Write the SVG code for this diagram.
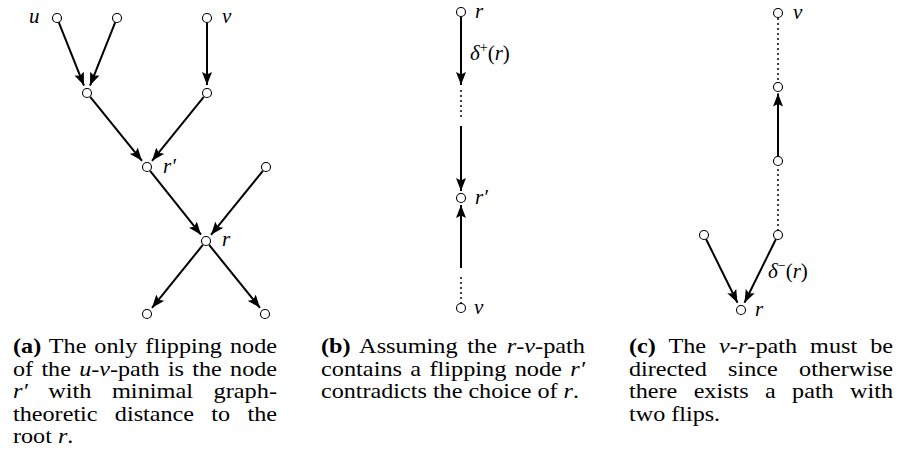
<svg xmlns="http://www.w3.org/2000/svg" width="903" height="459" viewBox="0 0 903 459">
<style>
.n{fill:#fff;stroke:#000;stroke-width:1.1}
.e{stroke:#000;stroke-width:2;fill:none}
.a{marker-end:url(#ah)}
.d{stroke:#000;stroke-width:2;fill:none;stroke-dasharray:0 5;stroke-linecap:round}
.m{font-family:"Liberation Serif",serif;font-style:italic;font-size:21px}
.up{font-style:normal}
.c{font-family:"Liberation Serif",serif;font-size:21px}
.b{font-weight:bold}
.i{font-style:italic}
</style>
<defs>
<marker id="ah" markerUnits="userSpaceOnUse" markerWidth="15" markerHeight="11" refX="13" refY="5.5" orient="auto">
<path d="M0,0.5 L13,5.5 L0,10.5 L2.5,5.5 Z" fill="#000"/>
</marker>
</defs>
<g id="connectors">
<line class="e a" x1="58.7" y1="22.2" x2="84" y2="85.6"/>
<line class="e a" x1="115.3" y1="22.2" x2="90" y2="85.6"/>
<line class="e a" x1="207" y1="23" x2="207" y2="85"/>
<line class="e a" x1="90.2" y1="96.9" x2="142" y2="160.8"/>
<line class="e a" x1="203.8" y1="96.9" x2="152" y2="160.8"/>
<line class="e a" x1="150.1" y1="170.9" x2="201" y2="234.7"/>
<line class="e a" x1="262.9" y1="170.9" x2="211" y2="234.8"/>
<line class="e a" x1="202.9" y1="244.9" x2="152" y2="307.8"/>
<line class="e a" x1="209.1" y1="244.9" x2="260" y2="307.8"/>
<line class="e a" x1="461" y1="16.5" x2="461" y2="85"/>
<line class="d" x1="461" y1="91" x2="461" y2="121"/>
<line class="e a" x1="461" y1="126" x2="461" y2="191"/>
<line class="d" x1="461" y1="303" x2="461" y2="273"/>
<line class="e a" x1="461" y1="268" x2="461" y2="205"/>
<line class="d" x1="778" y1="19" x2="778" y2="82"/>
<line class="e a" x1="778" y1="156.5" x2="778" y2="93.5"/>
<line class="d" x1="778" y1="230" x2="778" y2="166"/>
<line class="e a" x1="706" y1="239" x2="737.5" y2="302.8"/>
<line class="e a" x1="776" y1="239" x2="744.5" y2="302.8"/>
</g>
<g id="a-u"><circle class="n" cx="57" cy="18" r="4.5"/><text class="m" x="29" y="23">u</text></g>
<g id="a-n2"><circle class="n" cx="117" cy="18" r="4.5"/></g>
<g id="a-v"><circle class="n" cx="207" cy="18" r="4.5"/><text class="m" x="222" y="23">v</text></g>
<g id="a-m1"><circle class="n" cx="87" cy="93" r="4.5"/></g>
<g id="a-m2"><circle class="n" cx="207" cy="93" r="4.5"/></g>
<g id="a-rp"><circle class="n" cx="147" cy="167" r="4.5"/><text class="m" x="163" y="173">r′</text></g>
<g id="a-n7"><circle class="n" cx="266" cy="167" r="4.5"/></g>
<g id="a-r"><circle class="n" cx="206" cy="241" r="4.5"/><text class="m" x="222" y="246">r</text></g>
<g id="a-b1"><circle class="n" cx="147" cy="314" r="4.5"/></g>
<g id="a-b2"><circle class="n" cx="265" cy="314" r="4.5"/></g>
<g id="b-r"><circle class="n" cx="461" cy="12" r="4.5"/><text class="m" x="475" y="18">r</text></g>
<g id="b-lbl"><text class="m" x="470" y="60">δ<tspan class="up" font-size="14" dy="-8">+</tspan><tspan class="up" dy="8">(</tspan>r<tspan class="up">)</tspan></text></g>
<g id="b-rp"><circle class="n" cx="461" cy="198" r="4.5"/><text class="m" x="475" y="204">r′</text></g>
<g id="b-v"><circle class="n" cx="461" cy="308" r="4.5"/><text class="m" x="474" y="314">v</text></g>
<g id="c-v"><circle class="n" cx="778" cy="13" r="4.5"/><text class="m" x="793" y="19">v</text></g>
<g id="c-n1"><circle class="n" cx="778" cy="87" r="4.5"/></g>
<g id="c-n2"><circle class="n" cx="778" cy="161" r="4.5"/></g>
<g id="c-n3"><circle class="n" cx="778" cy="235" r="4.5"/></g>
<g id="c-l"><circle class="n" cx="704" cy="235" r="4.5"/></g>
<g id="c-r"><circle class="n" cx="741" cy="310" r="4.5"/><text class="m" x="755" y="316">r</text></g>
<g id="c-lbl"><text class="m" x="768" y="278">δ<tspan class="up" font-size="14" dy="-8">−</tspan><tspan class="up" dy="8">(</tspan>r<tspan class="up">)</tspan></text></g>
<g id="captions" class="c">
<text x="13" y="353" word-spacing="1.7" textLength="264" lengthAdjust="spacingAndGlyphs"><tspan class="b">(a)</tspan> The only flipping node</text>
<text x="13" y="375.5" word-spacing="2" textLength="264" lengthAdjust="spacingAndGlyphs">of the <tspan class="i">u</tspan>-<tspan class="i">v</tspan>-path is the node</text>
<text x="13" y="398" word-spacing="12.4" textLength="264" lengthAdjust="spacingAndGlyphs"><tspan class="i">r′</tspan> with minimal graph-</text>
<text x="13" y="420.5" word-spacing="9.8" textLength="264" lengthAdjust="spacingAndGlyphs">theoretic distance to the</text>
<text transform="translate(13 443) scale(1.15 1)">root <tspan class="i">r</tspan>.</text>
<text x="321" y="353" word-spacing="3.2" textLength="264" lengthAdjust="spacingAndGlyphs"><tspan class="b">(b)</tspan> Assuming the <tspan class="i">r</tspan>-<tspan class="i">v</tspan>-path</text>
<text x="321" y="375.5" word-spacing="1.9" textLength="264" lengthAdjust="spacingAndGlyphs">contains a flipping node <tspan class="i">r′</tspan></text>
<text transform="translate(321 398) scale(1.15 1)">contradicts the choice of <tspan class="i">r</tspan>.</text>
<text x="629" y="353" word-spacing="6.1" textLength="264" lengthAdjust="spacingAndGlyphs"><tspan class="b">(c)</tspan> The <tspan class="i">v</tspan>-<tspan class="i">r</tspan>-path must be</text>
<text x="629" y="375.5" word-spacing="13.3" textLength="264" lengthAdjust="spacingAndGlyphs">directed since otherwise</text>
<text x="629" y="398" word-spacing="9" textLength="264" lengthAdjust="spacingAndGlyphs">there exists a path with</text>
<text transform="translate(629 420.5) scale(1.15 1)">two flips.</text>
</g>
</svg>
